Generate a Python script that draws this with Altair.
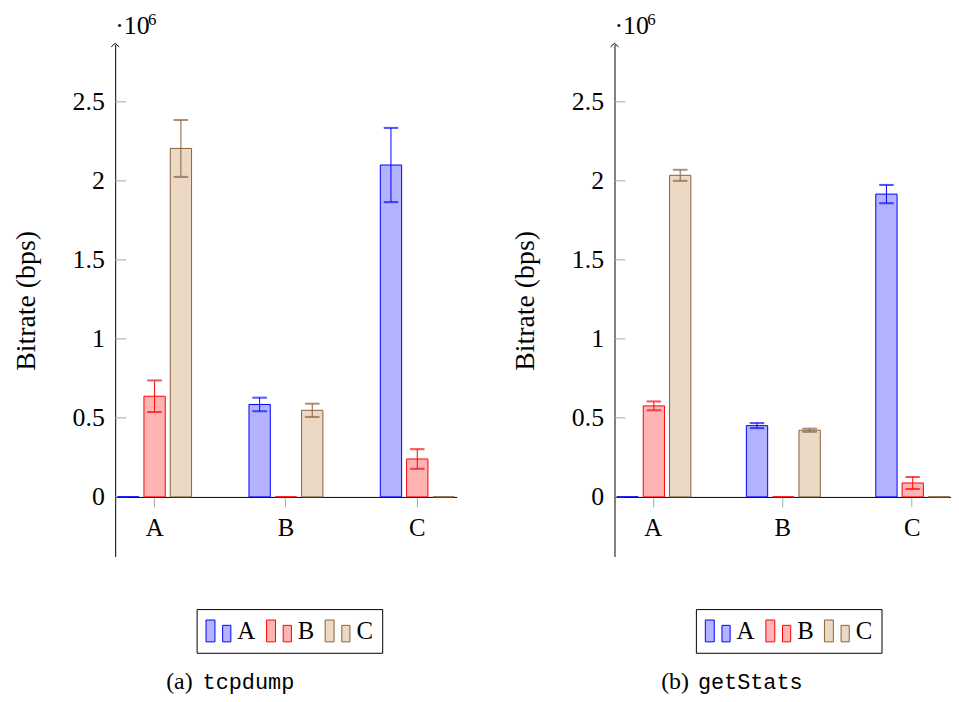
import altair as alt
import pandas as pd

# ---------------- data (values in bps) ----------------
groups = ["A", "B", "C"]
series = ["A", "B", "C"]

# (a) tcpdump : one list per series, across groups A, B, C
tcp_A = [0, 585000, 2100000]
tcp_B = [637000, 0, 240000]
tcp_C = [2205000, 548000, 0]
tcp_A_err = [0, 43000, 235000]
tcp_B_err = [100000, 0, 62000]
tcp_C_err = [180000, 42000, 0]

# (b) getStats
gs_A = [0, 451000, 1916000]
gs_B = [576000, 0, 88000]
gs_C = [2035000, 422000, 0]
gs_A_err = [0, 16000, 58000]
gs_B_err = [28000, 0, 38000]
gs_C_err = [35000, 10000, 0]

y_ticks = [0, 500000, 1000000, 1500000, 2000000, 2500000]
y_domain = [-377000, 2864000]

fill_colors = ["#b3b3ff", "#ffb3b3", "#ebd9c6"]
stroke_colors = ["#0000ff", "#ff0000", "#8a6038"]

SERIF = "Liberation Serif"
MONO = "Liberation Mono"
PLOT_H = 516


def build_df(means, errs):
    rows = []
    for s, vals, es in zip(series, means, errs):
        for g, v, e in zip(groups, vals, es):
            rows.append({"group": g, "series": s, "value": v,
                         "lo": v - e, "hi": v + e, "err": e})
    return pd.DataFrame(rows)


df_tcp = build_df([tcp_A, tcp_B, tcp_C], [tcp_A_err, tcp_B_err, tcp_C_err])
df_gs = build_df([gs_A, gs_B, gs_C], [gs_A_err, gs_B_err, gs_C_err])

zero_offset = -round(PLOT_H * (0 - y_domain[0]) / (y_domain[1] - y_domain[0]))

legend_symbol = "M-1,-0.88H-0.28V0.88H-1Z M0.34,-0.45H1V0.88H0.34Z"


def panel(df, tag, name, width, cap_x):
    xenc = alt.X("group:N", sort=groups,
                 scale=alt.Scale(paddingInner=0.4, paddingOuter=0),
                 axis=alt.Axis(title=None, labelAngle=0, offset=zero_offset,
                               domainColor="black", domainWidth=1,
                               tickColor="#a8a8a8", tickSize=10, tickWidth=1,
                               labelFont=SERIF, labelFontSize=25,
                               labelColor="black", labelPadding=9, grid=False))
    xoff = alt.XOffset("series:N", sort=series,
                       scale=alt.Scale(paddingInner=0.19, paddingOuter=0.0925))
    yscale = alt.Scale(domain=y_domain, nice=False, zero=False)
    yaxis = alt.Axis(title="Bitrate (bps)", values=y_ticks,
                     labelExpr="format(datum.value / 1000000, '~g')",
                     ticks=False, grid=False, domainColor="black", domainWidth=1,
                     labelFont=SERIF, labelFontSize=26, labelColor="black",
                     labelPadding=11, titleFont=SERIF, titleFontSize=28,
                     titleFontWeight="normal", titleColor="black", titlePadding=32)

    def yenc(field):
        return alt.Y(f"{field}:Q", scale=yscale, axis=yaxis)

    leg = alt.Legend(title=None, orient="none", legendX=82, legendY=569,
                     direction="horizontal", labelFont=SERIF, labelFontSize=25,
                     labelColor="black", strokeColor="black", fillColor="white",
                     padding=9, columnPadding=8, labelOffset=6,
                     symbolType=legend_symbol, symbolSize=625,
                     symbolStrokeWidth=1, symbolOpacity=1)
    fill = alt.Fill("series:N", sort=series,
                    scale=alt.Scale(domain=series, range=fill_colors), legend=leg)
    stroke = alt.Stroke("series:N", sort=series,
                        scale=alt.Scale(domain=series, range=stroke_colors), legend=leg)

    base = alt.Chart(df)
    bars = base.mark_bar(strokeWidth=1, opacity=1).encode(
        x=xenc, xOffset=xoff, y=yenc("value"), y2=alt.datum(0),
        fill=fill, stroke=stroke)
    err = base.transform_filter("datum.err > 0")
    err_rule = err.mark_rule(strokeWidth=1).encode(
        x=xenc, xOffset=xoff, y=yenc("lo"), y2="hi:Q", stroke=stroke)
    cap_lo = err.mark_tick(thickness=1, size=14, orient="horizontal").encode(
        x=xenc, xOffset=xoff, y=yenc("lo"), stroke=stroke)
    cap_hi = err.mark_tick(thickness=1, size=14, orient="horizontal").encode(
        x=xenc, xOffset=xoff, y=yenc("hi"), stroke=stroke)

    ticks = alt.Chart(pd.DataFrame({"value": y_ticks})).mark_rule(
        color="#a8a8a8", strokeWidth=1).encode(
        y=yenc("value"), x=alt.value(0), x2=alt.value(11))

    arrow = alt.Chart(pd.DataFrame({"value": [y_domain[1]]})).mark_point(
        shape="M-1,0.9L0,0L1,0.9", size=64, filled=False, stroke="black",
        strokeWidth=1, opacity=1).encode(x=alt.value(0), y=alt.value(-1))

    mult = alt.Chart(pd.DataFrame({"t": ["·10"]})).mark_text(
        font=SERIF, fontSize=26, align="left", baseline="alphabetic",
        color="black").encode(text="t:N", x=alt.value(0), y=alt.value(-10))
    expo = alt.Chart(pd.DataFrame({"t": ["6"]})).mark_text(
        font=SERIF, fontSize=17, align="left", baseline="alphabetic",
        color="black").encode(text="t:N", x=alt.value(33), y=alt.value(-19))

    cap_tag = alt.Chart(pd.DataFrame({"t": [tag]})).mark_text(
        font=SERIF, fontSize=24, align="right", baseline="alphabetic",
        color="black").encode(text="t:N", x=alt.value(cap_x[0]), y=alt.value(650))
    cap_name = alt.Chart(pd.DataFrame({"t": [name]})).mark_text(
        font=MONO, fontSize=22, align="left", baseline="alphabetic",
        color="black").encode(text="t:N", x=alt.value(cap_x[1]), y=alt.value(650))

    return alt.layer(ticks, bars, err_rule, cap_lo, cap_hi, arrow, mult, expo,
                     cap_tag, cap_name).properties(width=width, height=PLOT_H)


left = panel(df_tcp, "(a)", "tcpdump", 344, (78, 88))
right = panel(df_gs, "(b)", "getStats", 339, (75, 84))

chart = alt.hconcat(left, right, spacing=55).resolve_legend(
    fill="independent", stroke="independent"
).properties(padding={"left": 4, "top": 1, "right": 0, "bottom": 0},
             background="white"
).configure_view(strokeWidth=0)

chart.save("out.html", embed_options={"renderer": "svg", "actions": False})
